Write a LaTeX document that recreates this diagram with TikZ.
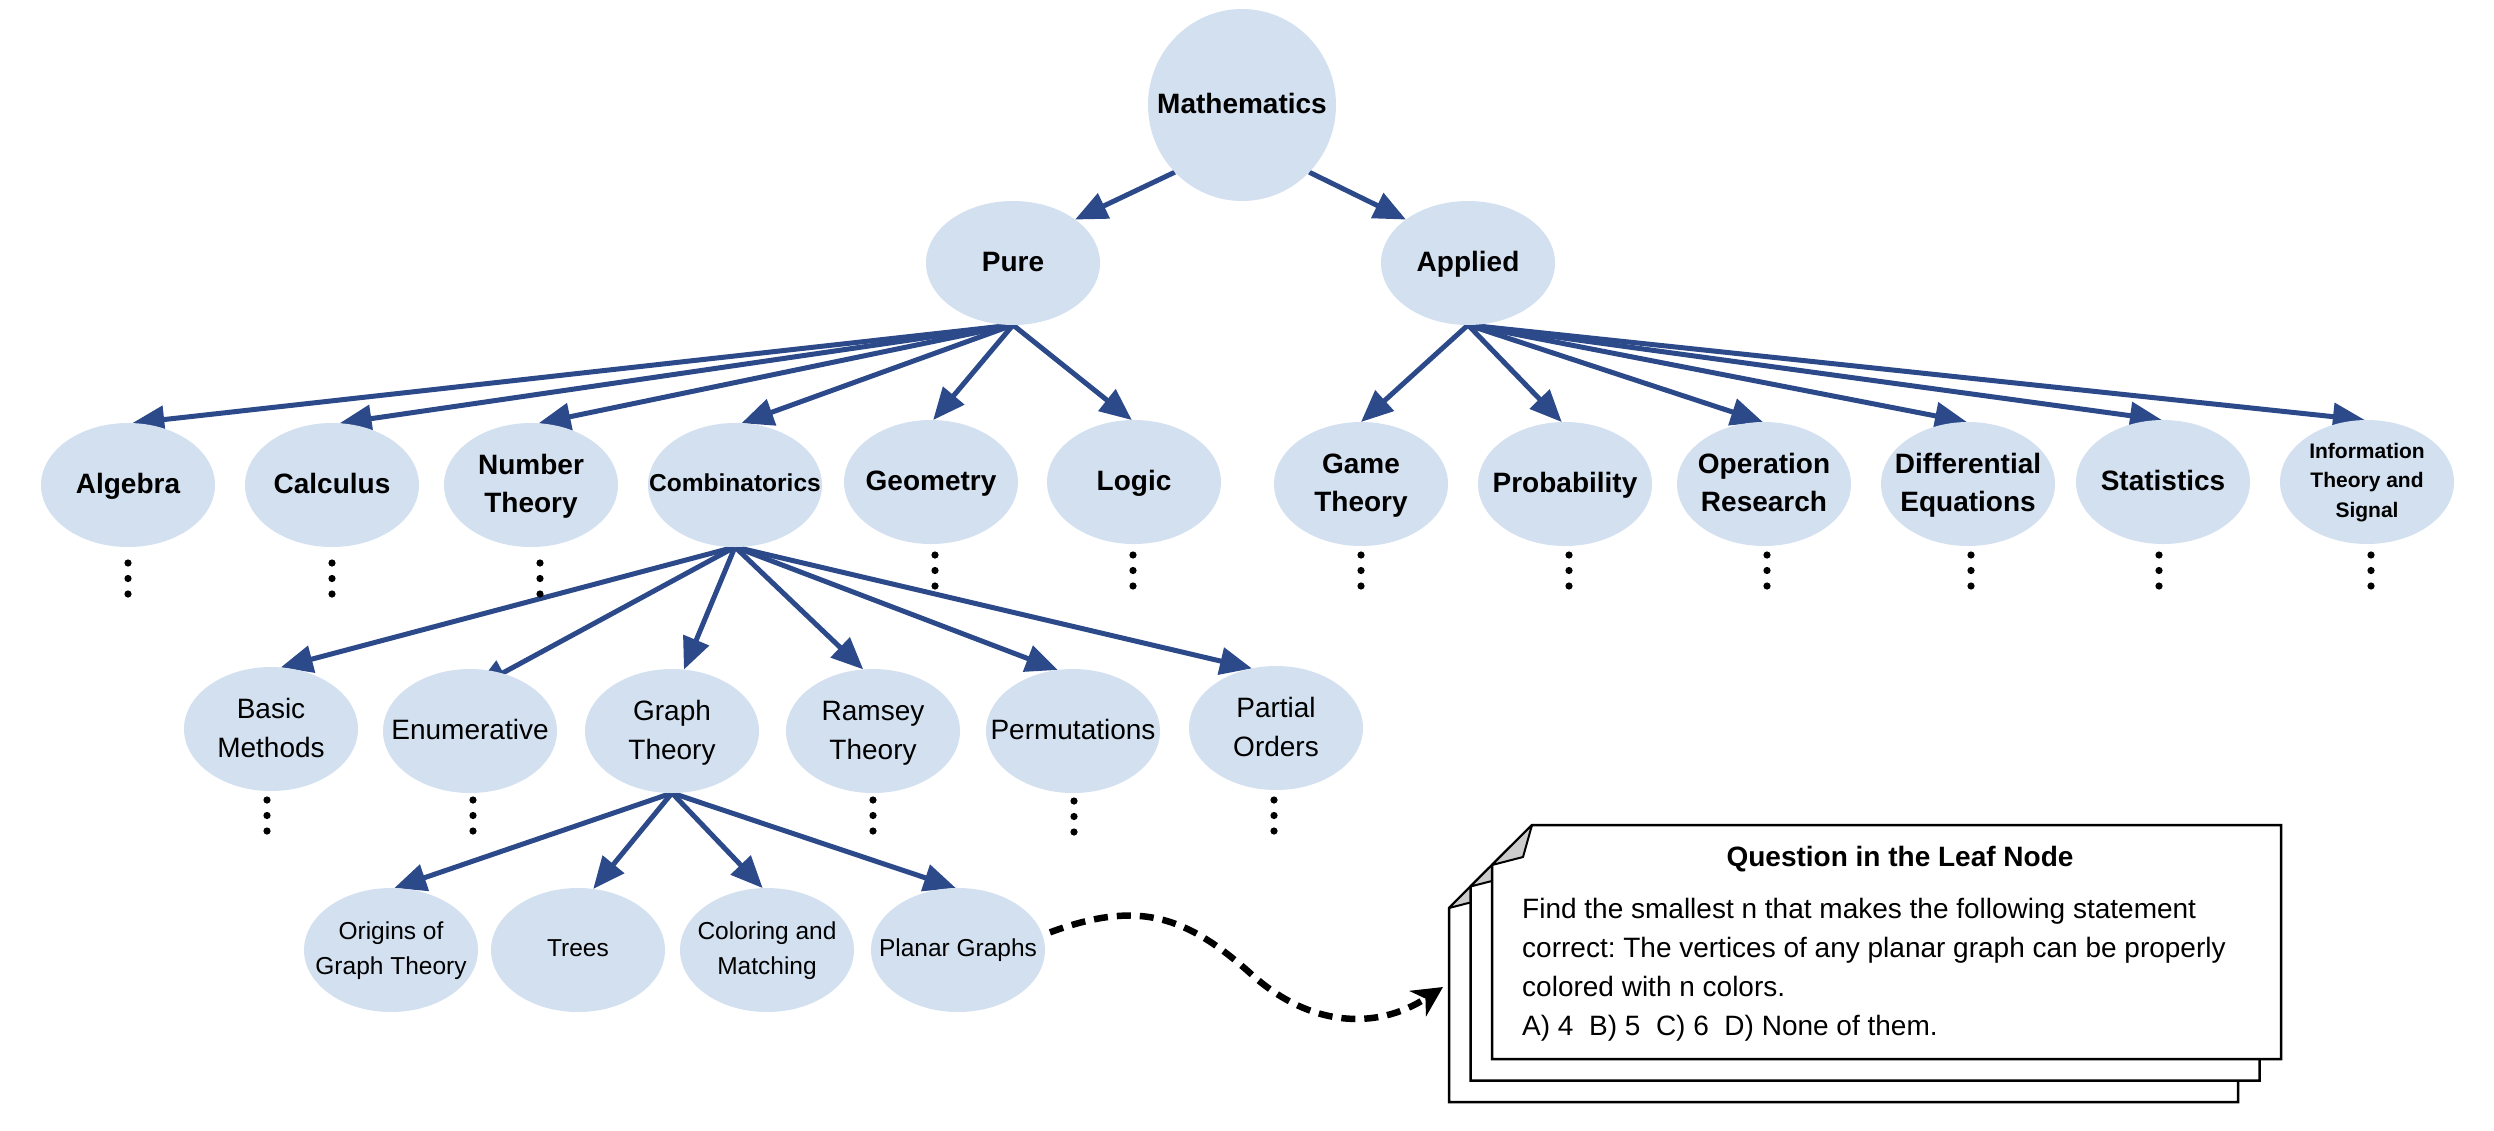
\documentclass[tikz,border=0pt]{standalone}
\usepackage{fontspec}
\setmainfont{Liberation Sans}
\frenchspacing
\usetikzlibrary{arrows.meta,shapes.geometric,backgrounds,calc}
\definecolor{nodefill}{HTML}{D3E0F0}
\definecolor{arrowblue}{HTML}{2C4A8A}
\definecolor{foldgray}{HTML}{CCCCCC}
\newcommand{\lbl}[1]{\smash{\makebox[0pt]{\raisebox{-0.25em}{\begin{tabular}[c]{@{}c@{}}#1\end{tabular}}}}}
\newcommand{\tripledot}[2]{\foreach \k in {0,1,2} \fill (#1,#2+15.5*\k) circle (3.6pt);}
\newcommand{\qpage}[2]{%
  \draw[pageline] (1532+#1,825+#2) -- (2281+#1,825+#2) -- (2281+#1,1059+#2) -- (1492+#1,1059+#2) -- (1492+#1,865+#2) -- cycle;
  \draw[foldline] (1532+#1,825+#2) -- (1523+#1,857+#2) -- (1492+#1,865+#2) -- cycle;}
\begin{document}
\begin{tikzpicture}[x=1pt,y=-1pt,
  topic/.style={ellipse, fill=nodefill, minimum width=174pt, minimum height=124pt, inner sep=0pt, outer sep=0pt},
  boldlbl/.style={font=\fontsize{28}{38}\selectfont\bfseries},
  reglbl/.style={font=\fontsize{28}{39}\selectfont},
  smalllbl/.style={font=\fontsize{24.5}{35}\selectfont},
  conn/.style={draw=arrowblue, line width=5pt, -{Triangle[length=32pt,width=27pt]}},
  flow/.style={draw=black, line width=6.5pt, dash pattern=on 14pt off 9pt, -{Stealth[length=30pt,width=30pt,inset=9pt]}},
  pageline/.style={draw=black, fill=white, line width=2.5pt, line join=miter},
  foldline/.style={draw=black, fill=foldgray, line width=2pt, line join=round}]
\useasboundingbox (0,0) rectangle (2494,1130);
% top
\node[topic, boldlbl, minimum width=188pt, minimum height=192pt] (math) at (1242,105) {\lbl{Mathematics}};
\node[topic, boldlbl] (pure) at (1013,263) {\lbl{Pure}};
\node[topic, boldlbl] (applied) at (1468,263) {\lbl{Applied}};
% level 2
\node[topic, boldlbl] (alg) at (128,485) {\lbl{Algebra}};
\node[topic, boldlbl] (calc) at (332,485) {\lbl{Calculus}};
\node[topic, boldlbl] (numth) at (531,485) {\lbl{Number\\Theory}};
\node[topic, font=\fontsize{24.5}{34}\selectfont\bfseries] (comb) at (735,485) {\lbl{Combinatorics}};
\node[topic, boldlbl] (geom) at (931,482) {\lbl{Geometry}};
\node[topic, boldlbl] (logic) at (1134,482) {\lbl{Logic}};
\node[topic, boldlbl] (game) at (1361,484) {\lbl{Game\\Theory}};
\node[topic, boldlbl] (prob) at (1565,484) {\lbl{Probability}};
\node[topic, boldlbl] (opres) at (1764,484) {\lbl{Operation\\Research}};
\node[topic, boldlbl] (diffeq) at (1968,484) {\lbl{Differential\\Equations}};
\node[topic, boldlbl] (stats) at (2163,482) {\lbl{Statistics}};
\node[topic, font=\fontsize{21}{29.5}\selectfont\bfseries] (info) at (2367,482) {\lbl{Information\\Theory and\\Signal}};
% level 3
\node[topic, reglbl] (basic) at (271,729) {\lbl{Basic\\Methods}};
\node[topic, reglbl] (enum) at (470,731) {\lbl{Enumerative}};
\node[topic, reglbl] (graph) at (672,731) {\lbl{Graph\\Theory}};
\node[topic, reglbl] (ramsey) at (873,731) {\lbl{Ramsey\\Theory}};
\node[topic, reglbl] (perm) at (1073,731) {\lbl{Permutations}};
\node[topic, reglbl] (partial) at (1276,728) {\lbl{Partial\\Orders}};
% level 4
\node[topic, smalllbl] (origins) at (391,950) {\lbl{Origins of\\Graph Theory}};
\node[topic, smalllbl] (trees) at (578,950) {\lbl{Trees}};
\node[topic, smalllbl] (color) at (767,950) {\lbl{Coloring and\\Matching}};
\node[topic, smalllbl] (planar) at (958,950) {\lbl{Planar Graphs}};
% connectors
\begin{scope}[on background layer]
\draw[conn] (math.225) -- (pure.35);
\draw[conn] (math.315) -- (applied.145);
\foreach \c/\a in {alg/86, calc/83, numth/83, comb/84, geom/88, logic/92}
  \draw[conn] (pure.south) -- (\c.\a);
\foreach \c/\a in {game/90, prob/93, opres/91, diffeq/91, stats/91, info/92}
  \draw[conn] (applied.south) -- (\c.\a);
\foreach \c/\a in {basic/81, graph/79, ramsey/99, perm/104, partial/112}
  \draw[conn] (comb.south) -- (\c.\a);
\draw[conn] (comb.south) -- ($(enum.center)+(5,-43)$);
\foreach \c/\a in {origins/87, trees/76, color/94, planar/92}
  \draw[conn] (graph.south) -- (\c.\a);
\end{scope}
% dots
\tripledot{128}{563}
\tripledot{332}{563}
\tripledot{540}{563}
\tripledot{935}{555}
\tripledot{1133}{555}
\tripledot{1361}{555}
\tripledot{1569}{555}
\tripledot{1767}{555}
\tripledot{1971}{555}
\tripledot{2159}{555}
\tripledot{2371}{555}
\tripledot{267}{800}
\tripledot{473}{800}
\tripledot{873}{800}
\tripledot{1074}{801}
\tripledot{1274}{800}
% question pages
\qpage{-43}{43}
\qpage{-21.5}{21.5}
\qpage{0}{0}
\node[font=\fontsize{28}{34}\selectfont\bfseries, anchor=base, inner sep=0pt] (qtitle) at (1900,866) {Question in the Leaf Node};
\node[font=\fontsize{28}{38.7}\selectfont, anchor=base west, align=left, inner sep=0pt] (qbody) at (1522,1035)
  {Find the smallest n that makes the following statement\\correct: The vertices of any planar graph can be properly\\colored with n colors.\\A) 4\ \ B) 5\ \ C) 6\ \ D) None of them.};
% dashed flow
\coordinate (bend) at (1250,973);
\coordinate (qin) at (1443,987);
\draw[flow, shorten <=8pt] (planar.10) .. controls (1135,901) and (1183,913) .. (bend) .. controls (1309,1027) and (1376,1031) .. (qin);
\end{tikzpicture}
\end{document}
